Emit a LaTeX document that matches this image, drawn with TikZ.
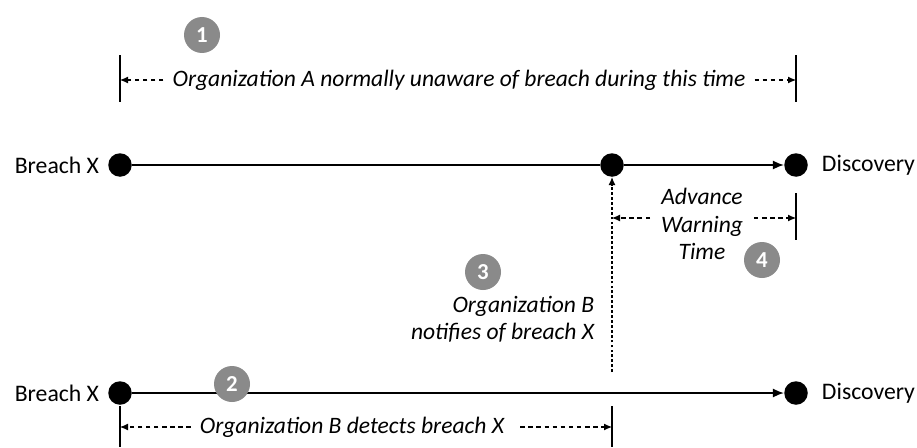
\documentclass[tikz,border=0pt]{standalone}
\usepackage{fontspec}
\setmainfont{Carlito}
\usepackage{tikz}
\usetikzlibrary{arrows.meta,positioning}
\definecolor{stepgray}{HTML}{8A8A8A}
\tikzset{
  evdot/.style={circle, fill=black, inner sep=0pt, minimum size=4.7mm},
  evlabel/.style={font=\fontsize{13.5}{16}\selectfont, inner sep=2pt},
  spantext/.style={font=\fontsize{13.4}{15.5}\selectfont\itshape, inner sep=5pt, align=center},
  numdot/.style={circle, fill=stepgray, inner sep=0pt, minimum size=7.2mm, text=white, font=\fontsize{13}{13}\selectfont\bfseries},
  tarr/.style={-{Latex[length=2.2mm, width=1.8mm]}, line width=0.8pt},
  darr/.style={-{Latex[length=1.6mm, width=1.4mm]}, line width=0.6pt, dash pattern=on 2.6pt off 2pt},
  tick/.style={line width=0.8pt}
}
\begin{document}
\begin{tikzpicture}
\useasboundingbox (0,0) rectangle (18.34,8.94);
% timeline of organization A
\node[evdot] (a1) at (2.4,5.64) {};
\node[evdot] (a2) at (12.24,5.64) {};
\node[evdot] (a3) at (15.92,5.64) {};
\node[evlabel, left=1mm of a1] (la1) {Breach X};
\node[evlabel, right=2mm of a3] (la3) {Discovery};
\draw[line width=0.8pt] (a1)--(a2); \draw[tarr] (a2)--(a3);
% timeline of organization B
\node[evdot] (b1) at (2.4,1.08) {};
\node[evdot] (b3) at (15.92,1.08) {};
\node[evlabel, left=1mm of b1] (lb1) {Breach X};
\node[evlabel, right=2mm of b3] (lb3) {Discovery};
\draw[tarr] (b1)--(b3);
% span 1
\draw[tick] (2.4,7.84) -- (2.4,6.9);
\draw[tick] (15.92,7.84) -- (15.92,6.9);
\node[spantext] (s1) at (9.18,7.34) {Organization A normally unaware of breach during this time};
\draw[darr] (s1.west) -- (2.4,7.34);
\draw[darr] (s1.east) -- (15.92,7.34);
\node[numdot] (n1) at (4.04,8.24) {1};
% span 2
\draw[tick] (2.4,0.82) -- (2.4,0);
\draw[tick] (12.24,0.82) -- (12.24,0);
\node[spantext] (s2) at (7.04,0.4) {Organization B detects breach X};
\draw[darr] (s2.west) -- (2.4,0.4);
\draw[darr] ([xshift=4pt]s2.east) -- (12.24,0.4);
\node[numdot] (n2) at (4.64,1.26) {2};
% notification
\coordinate (nb) at (12.24,1.5);
\draw[-{Latex[length=1.6mm, width=1.4mm]}, line width=0.6pt, dash pattern=on 1.6pt off 1.2pt] (nb) -- (a2);
\node[spantext, anchor=east, align=right, inner sep=2pt] (s3) at (11.96,2.56) {Organization B\\notifies of breach X};
\node[numdot] (n3) at (9.66,3.5) {3};
% span 4
\draw[tick] (15.92,5.08) -- (15.92,4.14);
\node[spantext, inner sep=2pt] (s4) at (14.04,4.46) {Advance\\Warning\\Time};
\draw[darr] ([xshift=-4pt]s4.west |- 0,4.58) -- (12.24,4.58);
\draw[darr] ([xshift=4pt]s4.east |- 0,4.58) -- (15.92,4.58);
\node[numdot] (n4) at (15.24,3.74) {4};
\end{tikzpicture}
\end{document}
